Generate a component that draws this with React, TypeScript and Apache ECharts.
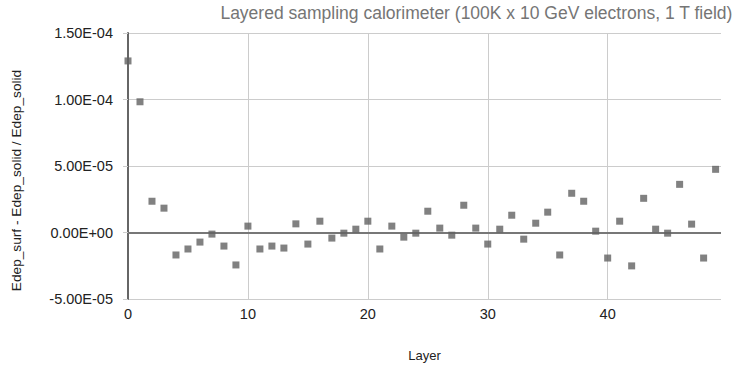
import React, { useEffect, useRef } from "react";
import * as echarts from "echarts";

const layers: number[] = Array.from({ length: 50 }, (_, i) => i);
const ratioE5: number[] = [
  12.9, 9.83, 2.35, 1.83, -1.69, -1.24, -0.72, -0.12, -1.02, -2.44,
  0.48, -1.24, -1.02, -1.17, 0.65, -0.87, 0.85, -0.42, -0.05, 0.25,
  0.85, -1.24, 0.48, -0.35, -0.05, 1.6, 0.33, -0.2, 2.05, 0.33,
  -0.87, 0.25, 1.3, -0.5, 0.7, 1.53, -1.69, 2.95, 2.35, 0.1,
  -1.92, 0.85, -2.51, 2.57, 0.25, -0.05, 3.62, 0.63, -1.92, 4.75,
];
const yTicks = { min: -5e-5, max: 1.5e-4, interval: 5e-5 };
const titleText = "Layered sampling calorimeter (100K x 10 GeV electrons, 1 T field)";
const xName = "Layer";
const yName = "Edep_surf - Edep_solid / Edep_solid";

const FONT = "Arial, 'Liberation Sans', sans-serif";

function fmtSci(v: number): string {
  if (Math.abs(v) < 1e-15) v = 0;
  const s = v.toExponential(2);
  const [m, e] = s.split("e");
  const n = parseInt(e, 10);
  return m + "E" + (n < 0 ? "-" : "+") + String(Math.abs(n)).padStart(2, "0");
}

export default function App() {
  const ref = useRef<HTMLDivElement>(null);
  useEffect(() => {
    if (!ref.current) return;
    const chart = echarts.init(ref.current, undefined, { renderer: "svg" });
    const data = layers.map((x, i) => [x, ratioE5[i] * 1e-5]);
    chart.setOption({
      animation: false,
      backgroundColor: "#ffffff",
      title: {
        text: titleText,
        right: 4,
        top: 4,
        padding: 0,
        textStyle: { fontFamily: FONT, fontSize: 17.5, fontWeight: "normal", color: "#757575" },
      },
      graphic: [
        {
          type: "text",
          x: 16.5,
          y: 180.5,
          rotation: Math.PI / 2,
          style: {
            text: yName,
            fontFamily: FONT,
            fontSize: 13.7,
            fill: "#222222",
            textAlign: "center",
            textVerticalAlign: "middle",
          },
        },
      ],
      grid: { left: 128, top: 33, right: 16, bottom: 67 },
      xAxis: {
        type: "value",
        min: 0,
        max: 49.45,
        interval: 10,
        name: xName,
        nameLocation: "middle",
        nameGap: 50,
        nameTextStyle: { fontFamily: FONT, fontSize: 13, color: "#222222" },
        axisLine: { show: false },
        axisTick: { show: false },
        axisLabel: {
          fontFamily: FONT,
          fontSize: 14.5,
          color: "#222222",
          margin: 7,
          showMaxLabel: false,
        },
        splitLine: {
          show: true,
          lineStyle: {
            color: ["#cccccc", "#cccccc", "#cccccc", "#cccccc", "#cccccc", "rgba(0,0,0,0)"],
            width: 1,
          },
        },
      },
      yAxis: {
        type: "value",
        min: yTicks.min,
        max: yTicks.max,
        interval: yTicks.interval,
        axisLine: { show: true, lineStyle: { color: "#666666", width: 2 } },
        axisTick: { show: true, length: 5, lineStyle: { color: "#cccccc" } },
        axisLabel: {
          fontFamily: FONT,
          fontSize: 14.5,
          color: "#222222",
          margin: 15,
          formatter: (v: number) => fmtSci(v),
        },
        splitLine: { show: true, lineStyle: { color: "#cccccc", width: 1 } },
      },
      series: [
        {
          type: "scatter",
          data,
          symbol: "rect",
          symbolSize: 7,
          itemStyle: { color: "#626262" },
          markLine: {
            silent: true,
            symbol: "none",
            label: { show: false },
            lineStyle: { color: "#777777", width: 2, type: "solid" },
            data: [{ yAxis: 0 }],
            z: 1,
          },
        },
      ],
    });
    return () => chart.dispose();
  }, []);
  return (
    <div
      ref={ref}
      style={{ position: "fixed", left: 0, top: 0, width: 737, height: 367 }}
    />
  );
}
